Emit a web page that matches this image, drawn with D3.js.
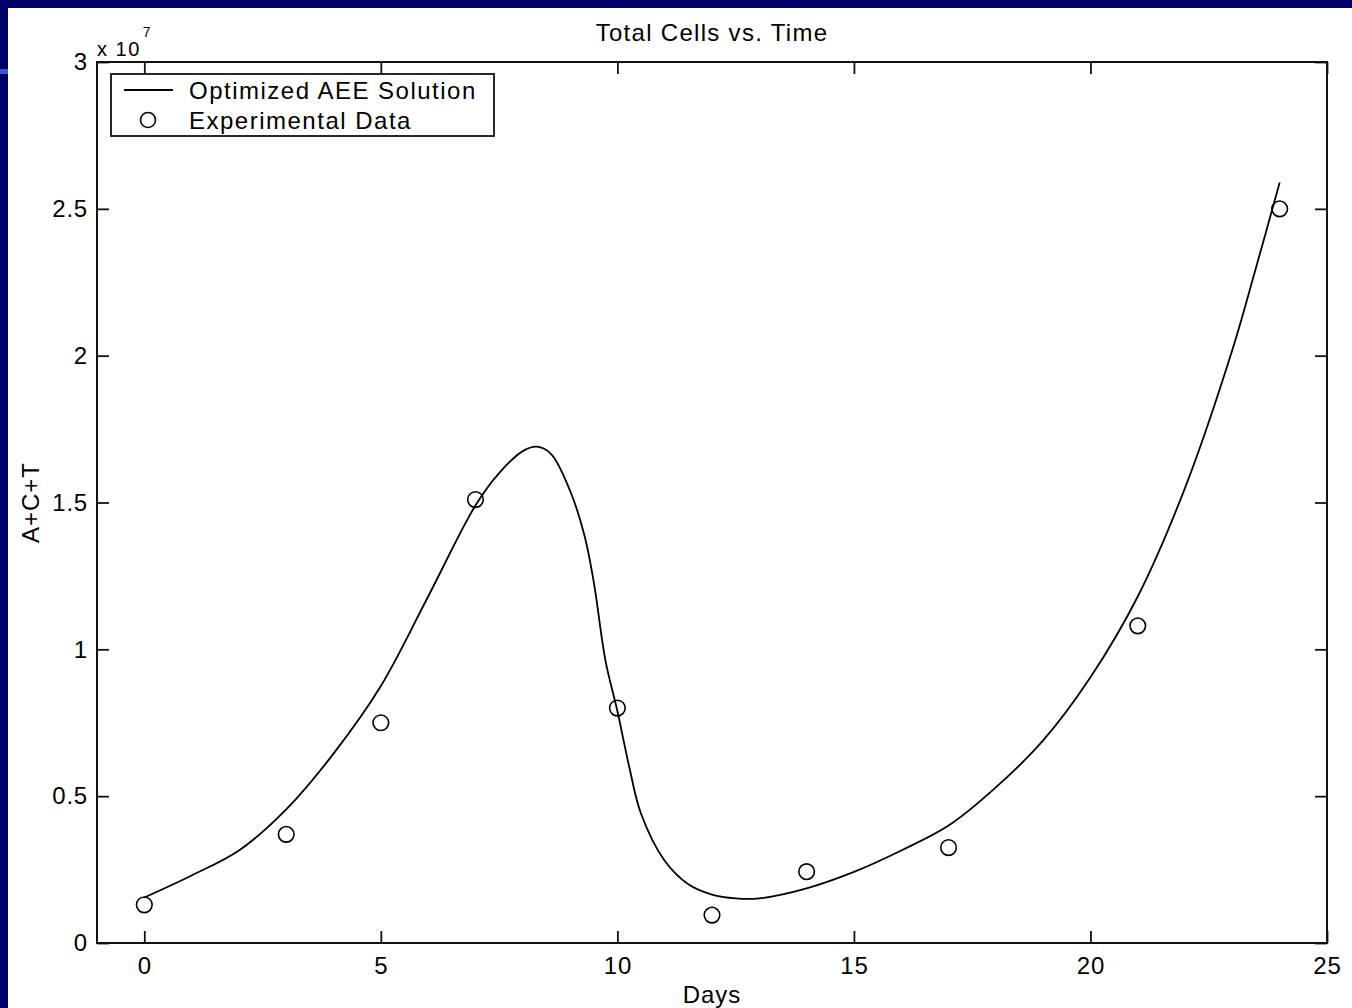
<!DOCTYPE html>
<html>
<head>
<meta charset="utf-8">
<script src="https://cdn.jsdelivr.net/npm/d3@7"></script>
<style>
  body { margin: 0; background: #000066; }
  svg { display: block; font-family: "Liberation Sans", Arial, Helvetica, sans-serif; }
  .axis text { font-size: 24px; fill: #000; letter-spacing: 0.8px; }
  .axis line { stroke: #111; stroke-width: 1.8px; }
</style>
</head>
<body>
<script>
// experimental data (days, total cells)
const dataDays  = [0, 3, 5, 7, 10, 12, 14, 17, 21, 24];
const dataCells = [1.3e6, 3.7e6, 7.5e6, 1.51e7, 8.0e6, 0.95e6, 2.43e6, 3.25e6, 1.08e7, 2.50e7];

// optimized AEE solution
const fitDays  = [0, 1, 2, 3, 4, 5, 6, 7, 7.5, 8, 8.3, 8.6, 9, 9.3, 9.5, 9.75, 10, 10.25, 10.5, 11, 11.5, 12, 12.5, 13, 14, 15, 16, 17, 18, 19, 20, 21, 22, 23, 23.5, 24];
const fitCells = [1.55e6, 2.3e6, 3.15e6, 4.55e6, 6.45e6, 8.75e6, 1.18e7, 1.49e7, 1.60e7, 1.675e7, 1.69e7, 1.665e7, 1.54e7, 1.39e7, 1.23e7, 9.6e6, 7.9e6, 6.0e6, 4.4e6, 2.8e6, 2.0e6, 1.65e6, 1.52e6, 1.52e6, 1.86e6, 2.42e6, 3.15e6, 4.0e6, 5.3e6, 6.9e6, 9.05e6, 1.18e7, 1.55e7, 2.02e7, 2.30e7, 2.59e7];

const xTicks = [0, 5, 10, 15, 20, 25];
const yTicks = [0, 0.5e7, 1e7, 1.5e7, 2e7, 2.5e7, 3e7];
const legendLabels = ["Optimized AEE Solution", "Experimental Data"];

const W = 1352, H = 1008;
const margin = { top: 62, right: 25, bottom: 65, left: 97 };
const pw = W - margin.left - margin.right;
const ph = H - margin.top - margin.bottom;

const svg = d3.select("body").append("svg")
    .attr("width", W)
    .attr("height", H);

// slide background: navy frame, white page
svg.append("rect").attr("width", W).attr("height", H).attr("fill", "#000066");
svg.append("rect").attr("x", 8).attr("y", 8).attr("width", W - 8).attr("height", H - 8).attr("fill", "#fff");
svg.append("rect").attr("x", 0).attr("y", 69).attr("width", 8).attr("height", 5).attr("fill", "#3b5cc4");

const x = d3.scaleLinear().domain([-1, 25]).range([0, pw]);
const y = d3.scaleLinear().domain([0, 3e7]).range([ph, 0]);

const g = svg.append("g").attr("transform", `translate(${margin.left},${margin.top})`);

// axes, MATLAB style ticks pointing inwards on all four sides
g.append("g").attr("class", "axis")
    .attr("transform", `translate(0,${ph})`)
    .call(d3.axisBottom(x).tickValues(xTicks).tickSizeInner(-12).tickSizeOuter(0).tickPadding(14))
    .call(a => a.select(".domain").remove());

g.append("g").attr("class", "axis")
    .call(d3.axisTop(x).tickValues(xTicks).tickSizeInner(-12).tickSizeOuter(0).tickFormat(""))
    .call(a => a.select(".domain").remove());

g.append("g").attr("class", "axis")
    .call(d3.axisLeft(y).tickValues(yTicks).tickSizeInner(-12).tickSizeOuter(0).tickPadding(9)
        .tickFormat(d => d3.format("~g")(d / 1e7)))
    .call(a => a.select(".domain").remove());

g.append("g").attr("class", "axis")
    .attr("transform", `translate(${pw},0)`)
    .call(d3.axisRight(y).tickValues(yTicks).tickSizeInner(-12).tickSizeOuter(0).tickFormat(""))
    .call(a => a.select(".domain").remove());

g.append("rect")
    .attr("width", pw).attr("height", ph)
    .attr("fill", "none").attr("stroke", "#111").attr("stroke-width", 2);

// exponent label
const expo = g.append("text")
    .attr("x", 0).attr("y", -6)
    .attr("font-size", 20).attr("letter-spacing", 1.5)
    .text("x 10");
expo.append("tspan").attr("dy", -19).attr("dx", 2).attr("font-size", 14).text("7");

// curve
const fit = fitDays.map((d, i) => [d, fitCells[i]]);
g.append("path")
    .datum(fit)
    .attr("fill", "none")
    .attr("stroke", "#000")
    .attr("stroke-width", 1.8)
    .attr("d", d3.line().x(d => x(d[0])).y(d => y(d[1])).curve(d3.curveCatmullRom.alpha(0.5)));

// data markers
g.selectAll("circle.obs")
    .data(dataDays.map((d, i) => [d, dataCells[i]]))
    .join("circle")
    .attr("class", "obs")
    .attr("cx", d => x(d[0]))
    .attr("cy", d => y(d[1]))
    .attr("r", 7.8)
    .attr("fill", "none")
    .attr("stroke", "#000")
    .attr("stroke-width", 1.6);

// titles
svg.append("text")
    .attr("x", margin.left + pw / 2).attr("y", 41)
    .attr("text-anchor", "middle")
    .attr("font-size", 24).attr("letter-spacing", 1.3)
    .text("Total Cells vs. Time");

svg.append("text")
    .attr("x", margin.left + pw / 2).attr("y", 1003)
    .attr("text-anchor", "middle")
    .attr("font-size", 24).attr("letter-spacing", 1)
    .text("Days");

svg.append("text")
    .attr("transform", `translate(39,${margin.top + ph / 2}) rotate(-90)`)
    .attr("text-anchor", "middle")
    .attr("font-size", 24).attr("letter-spacing", 1)
    .text("A+C+T");

// legend
const lg = g.append("g").attr("transform", "translate(14,12)");
lg.append("rect")
    .attr("width", 383).attr("height", 62)
    .attr("fill", "#fff").attr("stroke", "#111").attr("stroke-width", 1.8);

const rows = lg.selectAll("g.row")
    .data(legendLabels)
    .join("g")
    .attr("class", "row")
    .attr("transform", (d, i) => `translate(0,${16 + i * 30})`);

rows.filter((d, i) => i === 0).append("line")
    .attr("x1", 13).attr("x2", 62).attr("y1", 0).attr("y2", 0)
    .attr("stroke", "#000").attr("stroke-width", 1.8);

rows.filter((d, i) => i === 1).append("circle")
    .attr("cx", 37).attr("cy", 0).attr("r", 7.5)
    .attr("fill", "none").attr("stroke", "#000").attr("stroke-width", 1.6);

rows.append("text")
    .attr("x", 78).attr("y", 9)
    .attr("font-size", 24).attr("letter-spacing", 1.5)
    .text(d => d);
</script>
</body>
</html>
